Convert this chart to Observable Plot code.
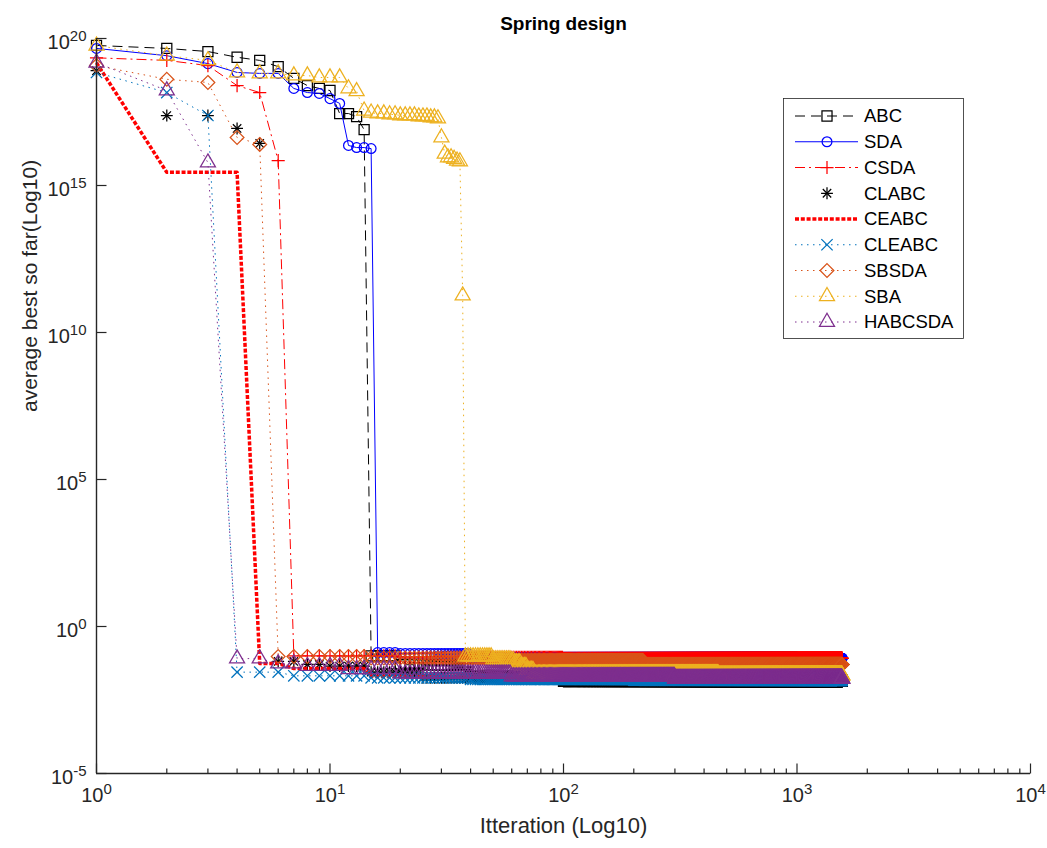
<!DOCTYPE html>
<html>
<head>
<meta charset="utf-8">
<script src="https://cdn.jsdelivr.net/npm/d3@7"></script>
<script src="https://cdn.jsdelivr.net/npm/@observablehq/plot@0.6"></script>
<style>
  body { margin: 0; background: #fff; }
  svg { display: block; }
</style>
</head>
<body>
<div id="chart"></div>
<script>
// Average best-so-far objective per iteration, spring design problem.
// Each algorithm is stored as the iterations where its best value changed
// and the value reached there; between change points the best-so-far holds.
const lastIter = 1560;

const abcIter = [1, 2, 3, 4, 5, 6, 7, 8, 9, 10, 11, 12, 13, 14, 15, 20, 40, 100];
const abcVal  = [5.8e19, 4.6e19, 3.6e19, 2.3e19, 1.8e19, 1.1e19, 4.4e18, 2.5e18, 2.0e18, 1.7e18,
                 2.8e17, 2.8e17, 2.2e17, 7.9e16, 0.1, 0.05, 0.02, 0.0135];

const sdaIter = [1, 2, 3, 4, 5, 6, 7, 8, 9, 10, 11, 12, 13, 14, 15, 16, 20, 40, 1000];
const sdaVal  = [4.6e19, 2.6e19, 1.4e19, 7e18, 6.5e18, 6.5e18, 2e18, 1.45e18, 1.35e18, 9e17,
                 6.2e17, 2.3e16, 1.95e16, 1.95e16, 1.8e16, 0.13, 0.12, 0.09, 0.083];

const csdaIter = [1, 2, 3, 4, 5, 6, 7, 20, 100];
const csdaVal  = [2.2e19, 1.8e19, 1.2e19, 2.5e18, 1.45e18, 7e15, 0.1, 0.09, 0.083];

const clabcIter = [1, 2, 3, 4, 5, 6, 8, 10, 15, 25, 100];
const clabcVal  = [8e18, 2.4e17, 2.4e17, 8.7e16, 2.7e16, 0.065, 0.051, 0.045, 0.028, 0.018, 0.0135];

const ceabcIter = [1, 2, 3, 4, 5, 7, 15, 100];
const ceabcVal  = [1.5e19, 2.8e15, 2.8e15, 2.8e15, 0.055, 0.037, 0.02, 0.0135];

const cleabcIter = [1, 2, 3, 4, 7, 15, 40, 200];
const cleabcVal  = [7e18, 1.45e18, 2.4e17, 0.028, 0.021, 0.018, 0.016, 0.015];

const sbsdaIter = [1, 2, 3, 4, 5, 6, 15, 50, 220];
const sbsdaVal  = [1.2e19, 4.1e18, 3.2e18, 4.3e16, 2.5e16, 0.095, 0.085, 0.069, 0.051];

const sbaIter = [1, 2, 3, 4, 5, 6, 7, 8, 9, 10, 11, 12, 13, 14, 15, 16, 18, 20, 24, 27, 29,
                 30, 31, 32, 34, 35, 36, 37, 38, 50, 60, 62, 66, 70, 75, 460];
const sbaVal  = [5.7e19, 2.6e19, 1.8e19, 7e18, 6.5e18, 6.5e18, 5.5e18, 5.5e18, 4.7e18, 4.7e18, 4.7e18,
                 2e18, 1.6e18, 3.5e17, 3e17, 2.8e17, 2.6e17, 2.4e17, 2.2e17, 2.05e17, 1.9e17,
                 4.3e16, 1.2e16, 9e15, 8e15, 7e15, 6.6e15, 1.8e11, 0.095, 0.076, 0.07, 0.06, 0.045,
                 0.033, 0.025, 0.022];

const habcsdaIter = [1, 2, 3, 4, 6, 8, 12, 20, 60, 300];
const habcsdaVal  = [1.5e19, 1.7e18, 6e15, 0.081, 0.055, 0.045, 0.035, 0.025, 0.02, 0.017];

// Axis ticks and their exponent labels
const xTickValues = [1, 10, 100, 1000, 10000];
const xTickExp = ["0", "1", "2", "3", "4"];
const yTickValues = [1e20, 1e15, 1e10, 1e5, 1, 1e-5];
const yTickExp = ["20", "15", "10", "5", "0", "-5"];
const xMinorTicks = [1, 10, 100, 1000].flatMap(d => [2, 3, 4, 5, 6, 7, 8, 9].map(k => k * d));

const FONT = "'Liberation Sans', Arial, Helvetica, sans-serif";

// Line and marker styling for each algorithm, in drawing order
const series = [
  {name: "ABC",     iters: abcIter,     vals: abcVal,     color: "#000000", line: true,  width: 1,   dash: "10,6",     symbols: [d3.symbolSquare2],  r: 6.4},
  {name: "SDA",     iters: sdaIter,     vals: sdaVal,     color: "#0000FF", line: true,  width: 1,   dash: null,       symbols: [d3.symbolCircle],   r: 4.9},
  {name: "CSDA",    iters: csdaIter,    vals: csdaVal,    color: "#FF0000", line: true,  width: 1,   dash: "10,4,2,4", symbols: [d3.symbolPlus],     r: 4.3},
  {name: "CLABC",   iters: clabcIter,   vals: clabcVal,   color: "#000000", line: false, width: 1,   dash: null,       symbols: [d3.symbolPlus, d3.symbolTimes], r: 3.9},
  {name: "CEABC",   iters: ceabcIter,   vals: ceabcVal,   color: "#FF0000", line: true,  width: 3.5, dash: "4,1.8",    symbols: [],                  r: 0},
  {name: "CLEABC",  iters: cleabcIter,  vals: cleabcVal,  color: "#0072BD", line: true,  width: 1,   dash: "1.5,4.5",  symbols: [d3.symbolTimes],    r: 5.2},
  {name: "SBSDA",   iters: sbsdaIter,   vals: sbsdaVal,   color: "#D95319", line: true,  width: 1,   dash: "1.5,4.5",  symbols: [d3.symbolDiamond2], r: 6.2},
  {name: "SBA",     iters: sbaIter,     vals: sbaVal,     color: "#EDB120", line: true,  width: 1,   dash: "1.5,4.5",  symbols: [d3.symbolTriangle2], r: 7.2},
  {name: "HABCSDA", iters: habcsdaIter, vals: habcsdaVal, color: "#7E2F8E", line: true,  width: 1,   dash: "1.5,4.5",  symbols: [d3.symbolTriangle2], r: 7.2}
];

// Best-so-far value at every iteration: the last improvement carries forward
function bestSoFar(name, iters, vals) {
  const rows = [];
  let k = 0;
  for (let it = 1; it <= lastIter; ++it) {
    while (k + 1 < iters.length && iters[k + 1] <= it) ++k;
    rows.push({name, iter: it, value: vals[k]});
  }
  return rows;
}

// Inward tick marks drawn as custom dot symbols
const tickUp = len => ({draw(ctx) { ctx.moveTo(0, 0); ctx.lineTo(0, -len); }});
const tickRight = len => ({draw(ctx) { ctx.moveTo(0, 0); ctx.lineTo(len, 0); }});

const markerStroke = 1.25;
const marks = [];
for (const s of series) {
  const rows = bestSoFar(s.name, s.iters, s.vals);
  if (s.line) {
    marks.push(Plot.line(rows, {
      x: "iter", y: "value", stroke: s.color, strokeWidth: s.width,
      strokeDasharray: s.dash ?? undefined, strokeLinecap: "butt", strokeLinejoin: "round"
    }));
  }
  for (const sym of s.symbols) {
    marks.push(Plot.dot(rows, {
      x: "iter", y: "value", symbol: sym, r: s.r, stroke: s.color, fill: "none", strokeWidth: markerStroke
    }));
  }
}

const axisColor = "#262626";
marks.push(
  Plot.ruleY([1e-5], {stroke: axisColor, strokeWidth: 1.4}),
  Plot.ruleX([1], {stroke: axisColor, strokeWidth: 1.4}),
  Plot.dot(xTickValues, {x: d => d, frameAnchor: "bottom", symbol: tickUp(10), stroke: axisColor, fill: "none", strokeWidth: 1.2}),
  Plot.dot(xMinorTicks, {x: d => d, frameAnchor: "bottom", symbol: tickUp(5), stroke: axisColor, fill: "none", strokeWidth: 1.2}),
  Plot.dot(yTickValues, {y: d => d, frameAnchor: "left", symbol: tickRight(10), stroke: axisColor, fill: "none", strokeWidth: 1.2}),
  Plot.text(xTickValues, {x: d => d, frameAnchor: "bottom", dy: 28, fontSize: 20, fill: axisColor,
    text: (d, i) => "10^" + xTickExp[i]}),
  Plot.text(yTickValues, {y: d => d, frameAnchor: "left", dx: -10, dy: 4, textAnchor: "end", fontSize: 20, fill: axisColor,
    text: (d, i) => "10^" + yTickExp[i]}),
  Plot.text(["Itteration (Log10)"], {frameAnchor: "bottom", dy: 59, fontSize: 22, fill: axisColor}),
  Plot.text(["average best so far(Log10)"], {frameAnchor: "left", dx: -66, dy: 6, rotate: -90, fontSize: 21, fill: axisColor}),
  Plot.text(["Spring design"], {frameAnchor: "top", dy: -22, fontSize: 19, fontWeight: "bold", fill: "#000"})
);

const chart = Plot.plot({
  width: 1047,
  height: 848,
  marginLeft: 96,
  marginRight: 17,
  marginTop: 38,
  marginBottom: 75,
  x: {type: "log", domain: [1, 1e4], axis: null},
  y: {type: "log", domain: [1e-5, 1e20], axis: null},
  style: {fontFamily: FONT, background: "#fff", color: axisColor},
  marks
});

// Tick labels as 10 with a raised exponent
d3.select(chart).selectAll("text").each(function () {
  const m = /^10\^(-?\d+)$/.exec(this.textContent);
  if (!m) return;
  const t = d3.select(this);
  t.text("10");
  t.append("tspan").attr("dy", "-0.5em").attr("font-size", "0.75em").text(m[1]);
});

// Legend box in the upper right of the axes
const lg = d3.select(chart).append("g")
  .attr("font-family", FONT).attr("text-anchor", "start");
lg.append("rect")
  .attr("x", 783.5).attr("y", 98.5).attr("width", 180).attr("height", 240)
  .attr("fill", "#fff").attr("stroke", axisColor).attr("stroke-width", 0.8);
series.forEach((s, i) => {
  const y = 116 + i * 25.75;
  if (s.line) {
    lg.append("line")
      .attr("x1", 795).attr("x2", 858).attr("y1", y).attr("y2", y)
      .attr("stroke", s.color).attr("stroke-width", s.width)
      .attr("stroke-dasharray", s.dash).attr("stroke-linecap", "butt");
  }
  for (const sym of s.symbols) {
    lg.append("path")
      .attr("transform", `translate(827,${y})`)
      .attr("d", d3.symbol(sym, Math.PI * s.r * s.r)())
      .attr("fill", "none").attr("stroke", s.color).attr("stroke-width", markerStroke);
  }
  lg.append("text")
    .attr("x", 864).attr("y", y).attr("dy", "0.35em")
    .attr("font-size", 18.5).attr("fill", "#000")
    .text(s.name);
});

document.getElementById("chart").append(chart);
</script>
</body>
</html>
